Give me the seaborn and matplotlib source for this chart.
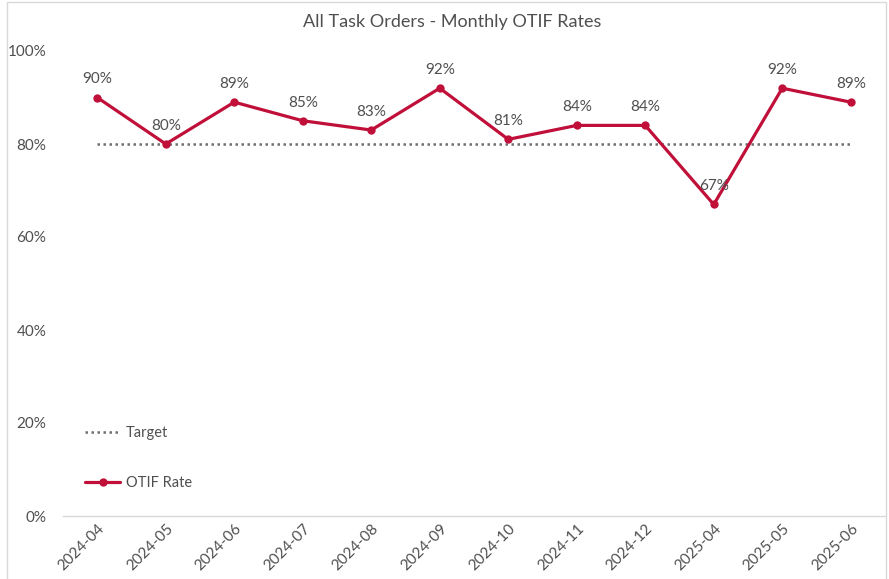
import matplotlib
matplotlib.use("Agg")
import matplotlib.pyplot as plt
import matplotlib.patches as mpatches
import seaborn as sns
import pandas as pd

# === Data ===
months = ["2024-04", "2024-05", "2024-06", "2024-07", "2024-08", "2024-09",
          "2024-10", "2024-11", "2024-12", "2025-04", "2025-05", "2025-06"]
otif = [0.90, 0.80, 0.89, 0.85, 0.83, 0.92, 0.81, 0.84, 0.84, 0.67, 0.92, 0.89]
target = [0.80] * len(months)
yticks = [0.0, 0.2, 0.4, 0.6, 0.8, 1.0]

df = pd.DataFrame({"month": months, "otif": otif, "target": target})

red = "#C0103A"
grey_txt = "#4F4F4F"

sns.set_theme(style="white")
plt.rcParams["font.family"] = ["Lato", "DejaVu Sans"]

fig = plt.figure(figsize=(8.89, 5.79), dpi=100)
ax = fig.add_axes([63 / 889, 1 - 516 / 579, 822 / 889, 465 / 579])

# === Lines ===
sns.lineplot(data=df, x="month", y="target", ax=ax, color="#6F6F6F",
             linestyle=(0, (1, 1.4)), linewidth=1.8, label="Target", zorder=2)
sns.lineplot(data=df, x="month", y="otif", ax=ax, color=red, linewidth=2.3,
             marker="o", markersize=6, markeredgewidth=0, label="OTIF Rate",
             zorder=3)

# === Point labels ===
for i, v in enumerate(otif):
    ax.annotate(f"{v:.0%}", (i, v), xytext=(0, 8), textcoords="offset points",
                ha="center", va="bottom", fontsize=11, color=grey_txt)

# === Axes styling ===
ax.set_xlim(-0.5, len(months) - 0.5)
ax.set_ylim(0, 1.0)
ax.set_yticks(yticks)
ax.set_yticklabels([f"{t:.0%}" for t in yticks])
ax.set_xlabel("")
ax.set_ylabel("")
ax.tick_params(axis="both", length=0, labelsize=11, labelcolor=grey_txt)
ax.tick_params(axis="y", pad=12)
ax.tick_params(axis="x", pad=4)
plt.setp(ax.get_xticklabels(), rotation=45, ha="right", rotation_mode="anchor")
for side in ["left", "right", "top"]:
    ax.spines[side].set_visible(False)
ax.spines["bottom"].set_color("#D9D9D9")
ax.spines["bottom"].set_linewidth(1)

leg = ax.legend(loc="center left", bbox_to_anchor=(0.027, 0.124), frameon=False,
                fontsize=10.5, labelspacing=2.45, handlelength=2.4, handletextpad=0.4,
                borderaxespad=0, borderpad=0)
for t in leg.get_texts():
    t.set_color(grey_txt)

fig.text(452 / 889, 1 - 22 / 579, "All Task Orders - Monthly OTIF Rates",
         ha="center", va="center", fontsize=13, color=grey_txt)

# chart border
fig.patches.append(mpatches.Rectangle((7 / 889, -0.05), 879 / 889, 1.05 - 2 / 579,
                                      transform=fig.transFigure, fill=False,
                                      edgecolor="#D9D9D9", linewidth=1))

fig.savefig("out.png", dpi=100)
